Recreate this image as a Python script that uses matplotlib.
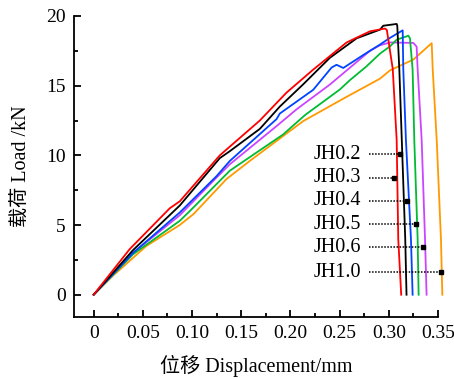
import matplotlib
matplotlib.use("Agg")
import matplotlib.pyplot as plt
from matplotlib.ticker import MultipleLocator

plt.rcParams['font.family'] = ['Liberation Serif', 'Noto Sans CJK SC']
plt.rcParams['mathtext.fontset'] = 'stix'

# Series (displacement mm, load kN)
red_x = [0, 0.0366, 0.0773, 0.0875, 0.1282, 0.1689, 0.1892, 0.196, 0.2231, 0.2571, 0.2808, 0.2961, 0.298, 0.304, 0.308, 0.3096, 0.3126]
red_y = [0, 3.27, 6.2, 6.7, 10.0, 12.5, 14.0, 14.5, 16.15, 18.1, 18.9, 19.1, 19.0, 16.2, 11.1, 4.0, 0]

black_x = [0, 0.04, 0.0875, 0.1282, 0.1384, 0.1689, 0.1892, 0.213, 0.2401, 0.2673, 0.291, 0.2943, 0.308, 0.3086, 0.3107, 0.3167, 0.318]
black_y = [0, 3.2, 6.4, 9.8, 10.3, 11.9, 13.5, 15.1, 17.0, 18.4, 19.02, 19.3, 19.43, 19.3, 16.15, 4.0, 0]

blue_x = [0, 0.04, 0.0875, 0.1248, 0.1384, 0.1859, 0.1892, 0.2231, 0.2418, 0.2469, 0.2537, 0.274, 0.291, 0.3012, 0.3141, 0.3147, 0.3174, 0.3225, 0.3242]
blue_y = [0, 3.0, 5.9, 8.5, 9.6, 12.6, 13.0, 14.7, 16.3, 16.5, 16.27, 17.2, 17.95, 18.43, 18.97, 16.2, 11.1, 4.0, 0]

violet_x = [0, 0.04, 0.0875, 0.1248, 0.1384, 0.1859, 0.2062, 0.213, 0.2401, 0.2808, 0.291, 0.3012, 0.3249, 0.3283, 0.3293, 0.3334, 0.3368, 0.3384]
violet_y = [0, 3.0, 5.7, 8.4, 9.36, 12.1, 13.3, 13.66, 15.08, 17.5, 17.9, 18.1, 18.07, 17.8, 16.2, 11.1, 4.0, 0]

green_x = [0, 0.04, 0.0875, 0.0977, 0.1384, 0.1926, 0.215, 0.2503, 0.2605, 0.2774, 0.291, 0.3012, 0.308, 0.3181, 0.3198, 0.3215, 0.3242, 0.3259, 0.3293, 0.3303]
green_y = [0, 2.9, 5.3, 6.0, 8.9, 11.5, 12.9, 14.73, 15.4, 16.39, 17.3, 17.82, 18.3, 18.54, 18.59, 18.4, 16.15, 11.1, 4.0, 0]

orange_x = [0, 0.0196, 0.0536, 0.0875, 0.1017, 0.135, 0.1587, 0.213, 0.2571, 0.291, 0.3012, 0.3249, 0.3436, 0.3446, 0.3487, 0.353, 0.3544]
orange_y = [0, 1.36, 3.5, 5.0, 5.8, 8.3, 9.6, 12.46, 14.2, 15.5, 16.1, 16.87, 18.05, 16.2, 11.1, 4.0, 0]

labels = ['JH0.2', 'JH0.3', 'JH0.4', 'JH0.5', 'JH0.6', 'JH1.0']
label_y = [10.07, 8.40, 6.73, 5.06, 3.39, 1.60]
arrow_end_x = [0.3113, 0.3055, 0.3181, 0.3273, 0.3344, 0.3527]
label_text_x = 0.2231
arrow_start_x = 0.2801

x_ticks = [0, 0.05, 0.10, 0.15, 0.20, 0.25, 0.30, 0.35]
x_ticklabels = ['0', '0.05', '0.10', '0.15', '0.20', '0.25', '0.30', '0.35']
y_ticks = [0, 5, 10, 15, 20]

fig = plt.figure(figsize=(4.54, 3.79), dpi=100)
ax = fig.add_axes([74/454, 62/379, 364/454, 301/379])

series = [
    (orange_x, orange_y, '#FF9900'),
    (violet_x, violet_y, '#CC44FF'),
    (green_x, green_y, '#00BB33'),
    (blue_x, blue_y, '#0044FF'),
    (black_x, black_y, '#000000'),
    (red_x, red_y, '#FF0000'),
]
for xs, ys, c in series:
    ax.plot(xs, ys, color=c, lw=1.3, clip_on=False, zorder=2)

for lab, y, xe in zip(labels, label_y, arrow_end_x):
    ax.text(label_text_x, y, lab, fontsize=14.5, va='center', ha='left')
    ax.plot([arrow_start_x, xe], [y, y], ls=(0, (1, 1)), color='k', lw=1.1,
            clip_on=False, zorder=3)
    ax.plot([xe], [y], marker='s', ms=3.5, color='k', clip_on=False, zorder=3)

ax.set_xlim(-0.02, 0.35)
ax.set_ylim(-1.6, 20)
ax.set_xticks(x_ticks)
ax.set_xticklabels(x_ticklabels)
ax.set_yticks(y_ticks)
ax.xaxis.set_minor_locator(MultipleLocator(0.025))
ax.yaxis.set_minor_locator(MultipleLocator(2.5))
ax.tick_params(which='both', direction='in', width=1.3, labelsize=14)
ax.tick_params(which='major', length=5, pad=6)
ax.tick_params(which='minor', length=3)
ax.spines['top'].set_visible(False)
ax.spines['right'].set_visible(False)
for s in ['left', 'bottom']:
    ax.spines[s].set_linewidth(1.3)

ax.set_xlabel('位移 Displacement/mm', fontsize=14.5, labelpad=9)
ax.set_ylabel('载荷 Load /kN', fontsize=14.5, labelpad=10)

fig.savefig('out.png', dpi=100)
